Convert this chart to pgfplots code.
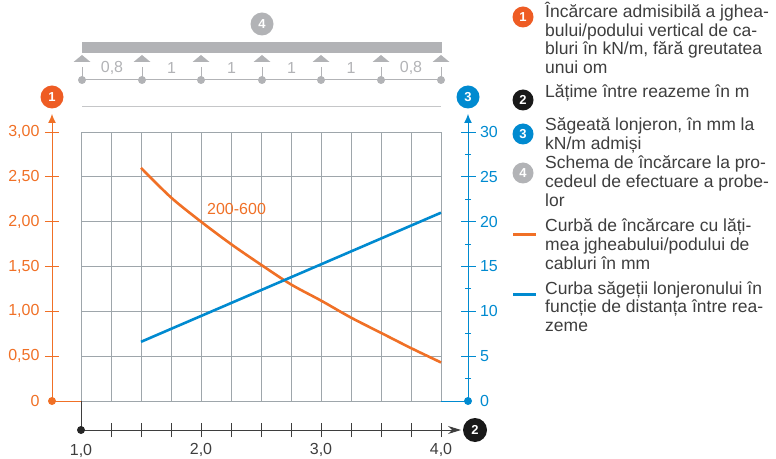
\documentclass[border=0pt]{standalone}
\usepackage{pgfplots}
\pgfplotsset{compat=1.18}
\pgfplotsset{/pgf/number format/assume math mode=true}
\usepackage{fontspec}
\setmainfont{Liberation Sans}
\usetikzlibrary{arrows.meta}

\definecolor{corange}{RGB}{240,112,38}
\definecolor{cred}{RGB}{238,92,36}
\definecolor{cblue}{RGB}{0,138,208}
\definecolor{cgray}{RGB}{178,179,182}
\definecolor{cgrid}{RGB}{158,166,171}
\definecolor{ctext}{RGB}{62,62,62}

\newcommand{\fs}{\fontsize{16}{19}\selectfont}
\newcommand{\fl}{\fontsize{17.5}{19}\selectfont}
\newcommand{\fn}{\bfseries\fontsize{13}{13}\selectfont}
\newcommand{\legline}[2]{\node[anchor=base west, inner sep=0pt, text=ctext, font=\fl] at (545,#1) {#2};}
\newcommand{\badge}[4]{\fill[#1] (#2,#3) circle (#4);}

\begin{document}
\begin{tikzpicture}[x=1pt,y=1pt]
\useasboundingbox (0,0) rectangle (776,458);

% grid and load curve (left scale, kN/m)
\begin{axis}[
  at={(81pt,57pt)}, anchor=south west,
  width=360pt, height=269pt, scale only axis,
  xmin=1, xmax=4, ymin=0, ymax=3,
  xtick={1,1.25,...,4}, ytick={0,0.5,...,3},
  xticklabels={}, yticklabels={},
  major tick length=0pt,
  grid=major, grid style={line width=0.9pt, cgrid},
  axis line style={draw=none},
  clip=false,
]
\addplot[corange, line width=2.6pt, smooth] coordinates {
 (1.5,2.60) (1.75,2.27) (2.0,2.00) (2.25,1.75) (2.5,1.52) (2.75,1.30)
 (3.0,1.12) (3.25,0.93) (3.5,0.76) (3.75,0.59) (4.0,0.43)};
\node[anchor=west, inner sep=0pt, text=corange, font=\fs] at (axis cs:2.05,2.14) {200-600};
\end{axis}

% deflection curve (right scale, mm)
\begin{axis}[
  at={(81pt,57pt)}, anchor=south west,
  width=360pt, height=269pt, scale only axis,
  xmin=1, xmax=4, ymin=0, ymax=30, hide axis, clip=false,
]
\addplot[cblue, line width=2.6pt] coordinates {(1.5,6.6) (4.0,21.0)};
\end{axis}

% left scale
\begin{axis}[
  at={(52pt,57pt)}, anchor=south west,
  width=360pt, height=269pt, scale only axis,
  xmin=0, xmax=1, ymin=0, ymax=3,
  axis x line=none, axis y line=left,
  y axis line style={draw=none},
  ytick={0.5,1,1.5,2,2.5,3},
  yticklabels={{0,50},{1,00},{1,50},{2,00},{2,50},{3,00}},
  extra y ticks={0}, extra y tick labels={0},
  extra y tick style={major tick style={draw=none}},
  tick align=center, major tick length=14pt,
  ytick style={corange, line width=1pt},
  yticklabel style={text=corange, font=\fs, xshift=-2pt},
]
\end{axis}

% right scale
\begin{axis}[
  at={(108pt,57pt)}, anchor=south west,
  width=360pt, height=269pt, scale only axis,
  xmin=0, xmax=1, ymin=0, ymax=30,
  axis x line=none, axis y line=right,
  y axis line style={draw=none},
  ytick={5,10,15,20,25,30},
  minor ytick={2.5,7.5,12.5,17.5,22.5,27.5},
  extra y ticks={0}, extra y tick labels={0},
  extra y tick style={major tick style={draw=none}},
  tick align=center, major tick length=15pt, minor tick length=6pt,
  ytick style={cblue, line width=1pt},
  yticklabel style={text=cblue, font=\fs, xshift=1pt},
]
\end{axis}

% bottom scale
\begin{axis}[
  at={(81pt,28pt)}, anchor=south west,
  width=360pt, height=20pt, scale only axis,
  xmin=1, xmax=4, ymin=0, ymax=1,
  axis y line=none, axis x line=bottom,
  x axis line style={draw=none},
  xtick={2,3,4}, xticklabels={{2,0},{3,0},{4,0}},
  minor xtick={1.25,1.5,1.75,2.25,2.5,2.75,3.25,3.5,3.75},
  tick align=center, major tick length=14pt, minor tick length=14pt,
  xtick style={ctext, line width=1pt},
  xticklabel style={text=ctext, font=\fs, yshift=-3pt},
]
\end{axis}
\node[anchor=base, inner sep=0pt, text=ctext, font=\fs] at (81,3) {1,0};

% axis lines, arrows, end dots, badges
\draw[corange, line width=1pt] (52,57) -- (81,57);
\draw[corange, line width=1pt, -{Latex[length=9pt,width=8pt]}] (52,57) -- (52,344);
\fill[corange] (52,57) circle (4);
\badge{cred}{52}{361}{11.5}
\node[text=white, font=\fn] at (52,361) {1};

\draw[cblue, line width=1pt] (441,57) -- (468,57);
\draw[cblue, line width=1pt, -{Latex[length=9pt,width=8pt]}] (468,57) -- (468,344);
\fill[cblue] (468,57) circle (4);
\badge{cblue}{468}{361}{11.5}
\node[text=white, font=\fn] at (468,361) {3};

\draw[ctext, line width=1pt] (81,57) -- (81,28);
\draw[ctext, line width=1pt, -{Stealth[length=13pt,width=8pt]}] (81,28) -- (461,28);
\fill[black!85] (81,28) circle (4);
\badge{black!90}{475}{28}{12}
\node[text=white, font=\fn] at (475,28) {2};

% load scheme
\fill[cgray] (82,405) rectangle (442,416);
\badge{cgray}{262}{434}{11.5}
\node[text=white, font=\fn] at (262,434) {4};
\foreach \x in {82,142,201,262,321,381,441} {
  \fill[cgray] (\x,403) -- (\x-8.5,396) -- (\x+8.5,396) -- cycle;
  \draw[cgray, line width=1pt] (\x,391) -- (\x,378);
  \fill[cgray] (\x,378) circle (4);
}
\draw[cgray, line width=1pt] (82,378) -- (441,378);
\foreach \x/\t in {112/{0,8},171.5/1,231.5/1,291.5/1,351/1,411/{0,8}}
  \node[text=cgray, font=\fs] at (\x,390) {\t};
\draw[cgray!75, line width=1pt] (82,351) -- (441,351);

% legend
\badge{cred}{523}{441}{10.5}
\node[text=white, font=\fn] at (523,441) {1};
\legline{440}{Încărcare admisibilă a jghea-}
\legline{421.5}{bului/podului vertical de ca-}
\legline{403}{bluri în kN/m, fără greutatea}
\legline{384.5}{unui om}
\badge{black!90}{523}{358}{10.5}
\node[text=white, font=\fn] at (523,358) {2};
\legline{360.3}{Lățime între reazeme în m}
\badge{cblue}{523}{324}{10.5}
\node[text=white, font=\fn] at (523,324) {3};
\legline{327}{Săgeată lonjeron, în mm la}
\legline{308}{kN/m admiși}
\badge{cgray}{523}{285}{10.5}
\node[text=white, font=\fn] at (523,285) {4};
\legline{289}{Schema de încărcare la pro-}
\legline{270}{cedeul de efectuare a probe-}
\legline{251}{lor}
\draw[corange, line width=3pt] (513,223) -- (536,223);
\legline{226}{Curbă de încărcare cu lăți-}
\legline{207}{mea jgheabului/podului de}
\legline{188}{cabluri în mm}
\draw[cblue, line width=3pt] (513,163) -- (536,163);
\legline{163}{Curba săgeții lonjeronului în}
\legline{145}{funcție de distanța între rea-}
\legline{126}{zeme}
\end{tikzpicture}
\end{document}
